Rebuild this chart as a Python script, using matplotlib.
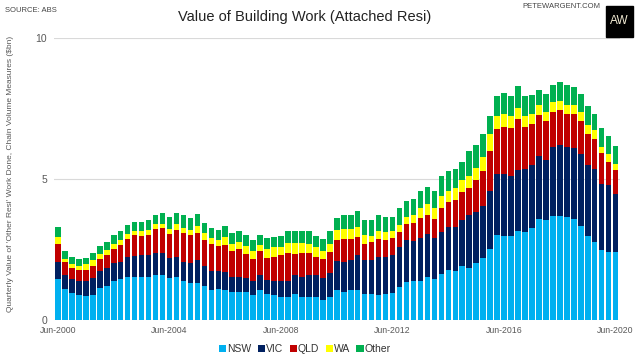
import numpy as np
import matplotlib
matplotlib.use("Agg")
import matplotlib.pyplot as plt
from matplotlib.patches import Rectangle

plt.rcParams['font.family'] = ['Liberation Sans', 'DejaVu Sans']

# quarterly, Jun-2000 .. Jun-2020 ($bn)
nsw = [1.46, 1.09, 0.94, 0.88, 0.84, 0.90, 1.15, 1.22, 1.37, 1.44, 1.54, 1.54, 1.54, 1.54, 1.60, 1.60,
       1.48, 1.54, 1.40, 1.32, 1.32, 1.20, 1.05, 1.11, 1.08, 1.01, 1.01, 1.01, 0.87, 1.05, 0.93, 0.87,
       0.83, 0.83, 0.93, 0.83, 0.83, 0.81, 0.71, 0.83, 1.07, 0.99, 1.05, 1.07, 0.93, 0.93, 0.90, 0.93,
       0.95, 1.18, 1.34, 1.38, 1.40, 1.52, 1.46, 1.64, 1.76, 1.73, 1.90, 1.84, 2.03, 2.19, 2.52, 3.03,
       2.97, 2.97, 3.14, 3.12, 3.27, 3.59, 3.53, 3.69, 3.70, 3.67, 3.59, 3.35, 2.99, 2.78, 2.49, 2.41,
       2.41]
vic = [0.61, 0.49, 0.52, 0.52, 0.53, 0.58, 0.57, 0.64, 0.65, 0.63, 0.69, 0.72, 0.75, 0.75, 0.78, 0.77,
       0.72, 0.71, 0.67, 0.70, 0.79, 0.71, 0.67, 0.61, 0.62, 0.51, 0.51, 0.49, 0.53, 0.53, 0.49, 0.51,
       0.55, 0.57, 0.65, 0.69, 0.78, 0.77, 0.79, 0.83, 1.01, 1.06, 1.06, 1.25, 1.18, 1.20, 1.33, 1.32,
       1.34, 1.42, 1.48, 1.42, 1.50, 1.53, 1.45, 1.48, 1.53, 1.58, 1.65, 1.90, 1.80, 1.87, 2.07, 2.13,
       2.21, 2.15, 2.19, 2.24, 2.21, 2.24, 2.15, 2.46, 2.50, 2.46, 2.51, 2.52, 2.49, 2.58, 2.34, 2.39,
       2.06]
qld = [0.63, 0.46, 0.38, 0.38, 0.42, 0.45, 0.45, 0.45, 0.50, 0.60, 0.65, 0.74, 0.68, 0.73, 0.85, 0.89,
       0.86, 0.95, 1.01, 0.98, 0.98, 0.93, 0.96, 0.89, 0.96, 0.91, 1.00, 0.85, 0.75, 0.85, 0.78, 0.85,
       0.91, 0.97, 0.77, 0.85, 0.76, 0.67, 0.66, 0.75, 0.77, 0.83, 0.77, 0.64, 0.57, 0.63, 0.65, 0.59,
       0.62, 0.51, 0.57, 0.63, 0.73, 0.69, 0.67, 0.85, 0.89, 0.95, 0.98, 0.93, 1.12, 1.24, 1.42, 1.62,
       1.66, 1.68, 1.79, 1.50, 1.48, 1.44, 1.39, 1.24, 1.25, 1.18, 1.21, 1.20, 1.12, 1.07, 1.08, 0.80,
       0.86]
wa = [0.24, 0.13, 0.15, 0.15, 0.18, 0.18, 0.18, 0.16, 0.18, 0.15, 0.18, 0.15, 0.17, 0.18, 0.18, 0.15,
      0.17, 0.19, 0.19, 0.20, 0.24, 0.24, 0.22, 0.23, 0.28, 0.27, 0.24, 0.29, 0.31, 0.23, 0.32, 0.35,
      0.29, 0.35, 0.37, 0.35, 0.33, 0.33, 0.28, 0.27, 0.35, 0.35, 0.35, 0.35, 0.35, 0.23, 0.29, 0.28,
      0.26, 0.27, 0.26, 0.28, 0.34, 0.38, 0.39, 0.41, 0.41, 0.43, 0.42, 0.45, 0.45, 0.47, 0.59, 0.47,
      0.47, 0.45, 0.41, 0.36, 0.35, 0.36, 0.32, 0.33, 0.33, 0.33, 0.33, 0.32, 0.30, 0.29, 0.24, 0.27,
      0.19]
other = [0.37, 0.27, 0.26, 0.24, 0.23, 0.26, 0.26, 0.29, 0.30, 0.32, 0.32, 0.34, 0.33, 0.35, 0.33, 0.38,
         0.44, 0.40, 0.44, 0.42, 0.43, 0.35, 0.37, 0.36, 0.41, 0.39, 0.41, 0.39, 0.38, 0.36, 0.38, 0.36,
         0.39, 0.43, 0.43, 0.43, 0.45, 0.41, 0.44, 0.47, 0.43, 0.48, 0.48, 0.57, 0.52, 0.56, 0.57, 0.53,
         0.50, 0.59, 0.56, 0.59, 0.59, 0.61, 0.62, 0.71, 0.69, 0.67, 0.67, 0.86, 0.79, 0.81, 0.65, 0.69,
         0.75, 0.68, 0.77, 0.71, 0.67, 0.53, 0.63, 0.62, 0.65, 0.68, 0.64, 0.61, 0.68, 0.59, 0.67, 0.66,
         0.64]

series = ["NSW", "VIC", "QLD", "WA", "Other"]
colors = ["#00B0F0", "#002060", "#C00000", "#FFFF00", "#00B050"]
tick_pos = [0, 16, 32, 48, 64, 80]
tick_labels = ["Jun-2000", "Jun-2004", "Jun-2008", "Jun-2012", "Jun-2016", "Jun-2020"]

fig = plt.figure(figsize=(6.4, 3.64), dpi=100)
ax = fig.add_axes([54 / 640, 1 - 320 / 364, 566 / 640, 282 / 364])

x = np.arange(len(nsw))
bottom = np.zeros(len(nsw))
for name, vals, col in zip(series, [nsw, vic, qld, wa, other], colors):
    ax.bar(x, vals, bottom=bottom, width=0.8, color=col, label=name, zorder=2)
    bottom += np.array(vals)

ax.set_xlim(-0.57, 80.63)
ax.set_ylim(0, 10)
for y in [5, 10]:
    ax.axhline(y, color="#D9D9D9", lw=0.8, zorder=0)
ax.axhline(0, color="#D9D9D9", lw=0.8, zorder=1)
for s in ax.spines.values():
    s.set_visible(False)

ax.set_yticks([0, 5, 10])
ax.set_xticks(tick_pos)
ax.set_xticklabels(tick_labels)
ax.tick_params(axis="y", length=0, pad=5, labelsize=7.5, labelcolor="#595959")
ax.tick_params(axis="x", length=0, pad=4.5, labelsize=6.3, labelcolor="#595959")
for lab in ax.get_yticklabels():
    lab.set_verticalalignment("center_baseline")

fig.text(0.016, 1 - 174 / 364,
         "Quarterly Value of 'Other Resi' Work Done, Chain Volume Measures ($bn)",
         rotation=90, ha="center", va="center", fontsize=6.0, color="#595959")

fig.text(305 / 640, 1 - 17 / 364, "Value of Building Work (Attached Resi)",
         ha="center", va="center", fontsize=10.5, color="#222222")
fig.text(5 / 640, 1 - 11 / 364, "SOURCE: ABS", ha="left", va="center",
         fontsize=5.5, color="#444444")
fig.text(600 / 640, 1 - 7 / 364, "PETEWARGENT.COM", ha="right", va="center",
         fontsize=5.5, color="#444444")
fig.patches.append(Rectangle((606 / 640, 1 - 37 / 364), 27 / 640, 31 / 364,
                             transform=fig.transFigure, color="black", zorder=5))
fig.text(619.5 / 640, 1 - 21.5 / 364, "AW", ha="center", va="center",
         fontsize=8.5, color="#F2EBD3", zorder=6)

leg = fig.legend(loc="center", bbox_to_anchor=(305 / 640, 1 - 349 / 364), ncol=5,
                 frameon=False, fontsize=7.5, handlelength=0.7, handleheight=0.7,
                 handletextpad=0.1, columnspacing=0.6, labelcolor="#333333")

fig.savefig("out.png", dpi=100)
